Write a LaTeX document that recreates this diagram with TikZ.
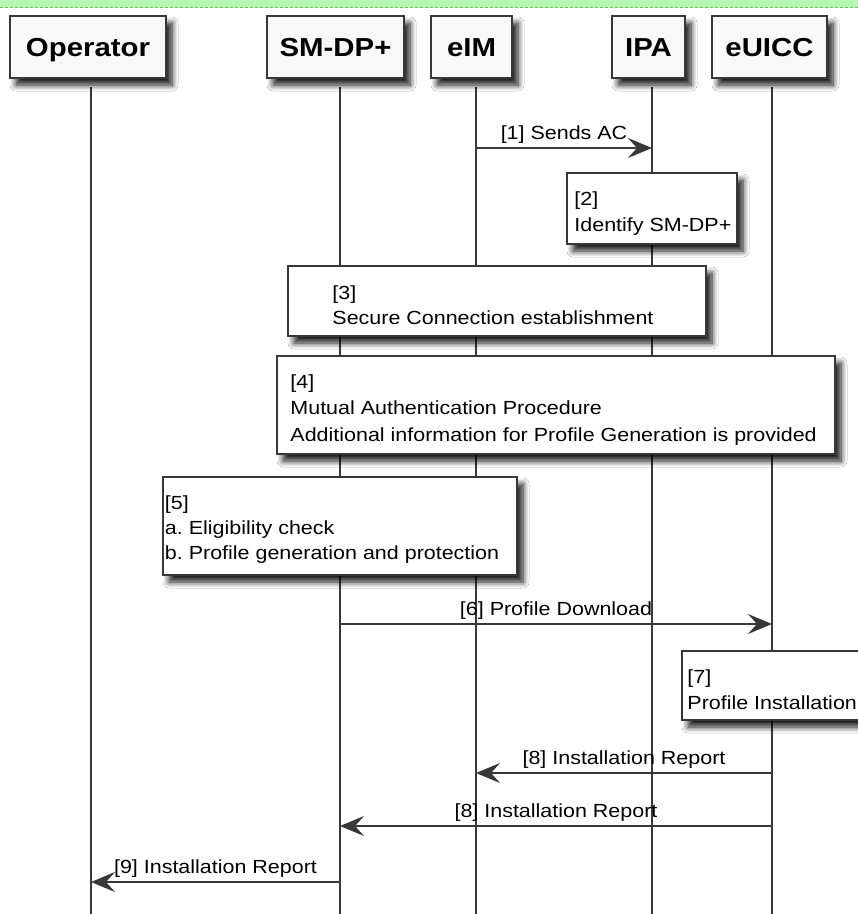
\documentclass[tikz,border=0pt]{standalone}
\usepackage{fontspec}
\setmainfont{Liberation Sans}[FakeStretch=1.13]
\usetikzlibrary{arrows.meta,shadows.blur}
\definecolor{ln}{HTML}{383838}
\definecolor{hdfill}{HTML}{F8F8F8}
\definecolor{band}{HTML}{B5F7B2}
\definecolor{banddash}{HTML}{6CBF5A}
\frenchspacing
\begin{document}
\begin{tikzpicture}[x=1pt,y=-1pt,
  shd/.style={blur shadow={shadow xshift=6pt,shadow yshift=-7pt,shadow blur radius=6pt,shadow blur steps=8,shadow opacity=90}},
  head/.style={draw=ln,fill=hdfill,line width=1.5pt,inner sep=0pt,
    font=\fontsize{26}{30}\selectfont\bfseries,text height=18.6pt,text depth=0pt,
    minimum height=62pt,shd},
  life/.style={draw=ln,line width=1.5pt},
  note/.style={draw=ln,fill=white,line width=1.5pt,inner sep=0pt,shd},
  notetext/.style={align=left,inner sep=0pt,anchor=west,
    font=\fontsize{19}{26.5}\selectfont},
  msg/.style={draw=ln,line width=1.5pt,-{Stealth[length=24pt,width=20pt,inset=9pt,fill=ln]}},
  lbl/.style={font=\fontsize{19}{23}\selectfont,inner sep=0pt,yshift=13pt}
]
\useasboundingbox (0,0) rectangle (858,914);
\clip (0,0) rectangle (858,914);
\fill[white] (0,0) rectangle (858,914);
% top band
\fill[band] (0,0) rectangle (858,7.5);
\draw[banddash,line width=0.8pt,dash pattern=on 3pt off 2pt] (0,7.5) -- (858,7.5);

% lifelines
\coordinate (opT) at (91,87);  \coordinate (opB) at (91,920);
\coordinate (smT) at (340,87); \coordinate (smB) at (340,920);
\coordinate (eiT) at (476,87); \coordinate (eiB) at (476,920);
\coordinate (ipT) at (652,87); \coordinate (ipB) at (652,920);
\coordinate (euT) at (772,87); \coordinate (euB) at (772,920);
\draw[life] (opT) -- (opB);
\draw[life] (smT) -- (smB);
\draw[life] (eiT) -- (eiB);
\draw[life] (ipT) -- (ipB);
\draw[life] (euT) -- (euB);

% headers
\node[head,minimum width=156pt] (op) at (88,47) {Operator};
\node[head,minimum width=137pt] (sm) at (335.5,47) {SM-DP+};
\node[head,minimum width=81pt]  (ei) at (471.5,47) {eIM};
\node[head,minimum width=73pt]  (ip) at (648.5,47) {IPA};
\node[head,minimum width=115pt] (eu) at (769.5,47) {eUICC};

% [1]
\coordinate (m1a) at (476,148); \coordinate (m1b) at (652,148);
\draw[msg] (m1a) -- (m1b) node[lbl,midway] {[1] Sends AC};

% notes
\node[note,minimum width=170pt,minimum height=71pt] (n2) at (652,208.5) {};
\node[notetext] (t2) at ([xshift=8pt,yshift=-5pt]n2.west) {[2]\\Identify SM-DP+};

\node[note,minimum width=418pt,minimum height=70pt] (n3) at (497,301) {};
\node[notetext,font=\fontsize{19}{24.5}\selectfont] (t3) at ([xshift=45pt,yshift=-4pt]n3.west) {[3]\\Secure Connection establishment};

\node[note,minimum width=558pt,minimum height=98pt] (n4) at (556,405) {};
\node[notetext] (t4) at ([xshift=14pt,yshift=-5pt]n4.west)
  {[4]\\Mutual Authentication Procedure\\Additional information for Profile Generation is provided};

\node[note,minimum width=354pt,minimum height=98pt] (n5) at (340,526) {};
\node[notetext,font=\fontsize{19}{25}\selectfont] (t5) at ([xshift=2.5pt,yshift=-4pt]n5.west)
  {[5]\\a. Eligibility check\\b. Profile generation and protection};

% [6]
\coordinate (m6a) at (340,624); \coordinate (m6b) at (772,624);
\draw[msg] (m6a) -- (m6b) node[lbl,midway] {[6] Profile Download};

\node[note,minimum width=180pt,minimum height=69pt] (n7) at (772,685.5) {};
\node[notetext] (t7) at ([xshift=6pt,yshift=-4pt]n7.west) {[7]\\Profile Installation};

% [8] [8] [9]
\coordinate (m8a) at (772,773); \coordinate (m8b) at (476,773);
\draw[msg] (m8a) -- (m8b) node[lbl,midway] {[8] Installation Report};
\coordinate (m8c) at (772,826); \coordinate (m8d) at (340,826);
\draw[msg] (m8c) -- (m8d) node[lbl,midway] {[8] Installation Report};
\coordinate (m9a) at (340,882); \coordinate (m9b) at (91,882);
\draw[msg] (m9a) -- (m9b) node[lbl,midway] {[9] Installation Report};
\end{tikzpicture}
\end{document}
